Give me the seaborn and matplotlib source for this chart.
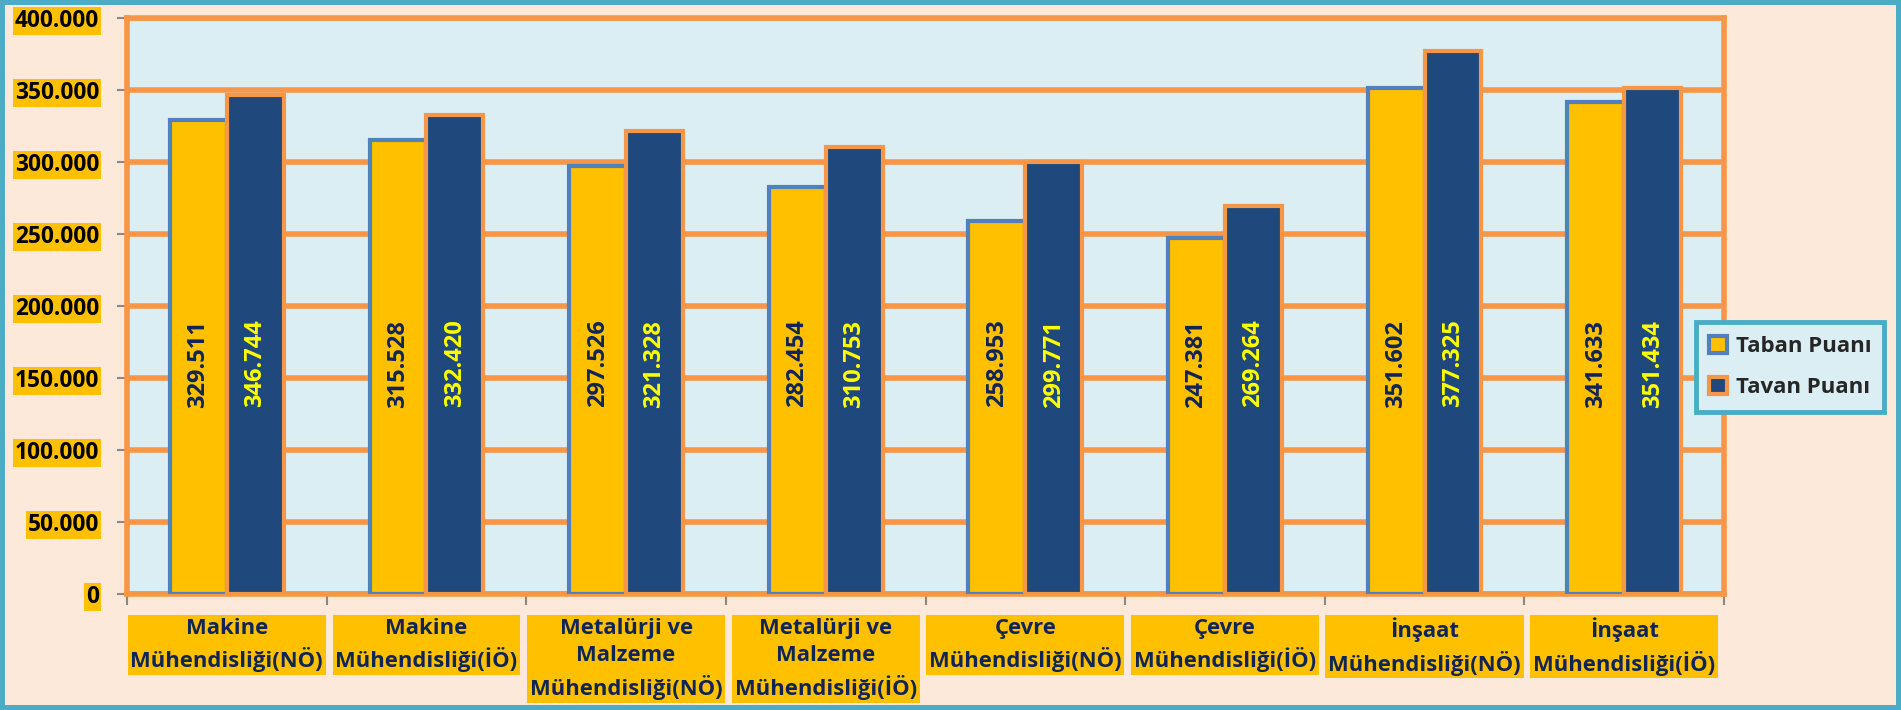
import matplotlib
matplotlib.use("Agg")
import matplotlib.pyplot as plt
import seaborn as sns
import pandas as pd
from matplotlib.patches import Patch
from matplotlib.ticker import FixedLocator, FuncFormatter

categories = ["Makine\nMühendisliği(NÖ)", "Makine\nMühendisliği(İÖ)",
              "Metalürji ve\nMalzeme\nMühendisliği(NÖ)", "Metalürji ve\nMalzeme\nMühendisliği(İÖ)",
              "Çevre\nMühendisliği(NÖ)", "Çevre\nMühendisliği(İÖ)",
              "İnşaat\nMühendisliği(NÖ)", "İnşaat\nMühendisliği(İÖ)"]
series_names = ["Taban Puanı", "Tavan Puanı"]
taban = [329511, 315528, 297526, 282454, 258953, 247381, 351602, 341633]
tavan = [346744, 332420, 321328, 310753, 299771, 269264, 377325, 351434]
y_ticks = [0, 50000, 100000, 150000, 200000, 250000, 300000, 350000, 400000]

YELLOW = "#FFC000"
NAVY = "#1F497D"
BLUE_EDGE = "#4F81BD"
ORANGE = "#F79646"
AX_BG = "#DBEEF3"
FIG_BG = "#FDE9D9"
TEAL = "#4BACC6"
TEXT_NAVY = "#0F2557"

sns.set_style("white")
plt.rcParams['font.family'] = ['Open Sans', 'DejaVu Sans']
plt.rcParams['font.weight'] = 'bold'

df = pd.DataFrame({
    "cat": categories * 2,
    "series": [series_names[0]] * len(categories) + [series_names[1]] * len(categories),
    "value": taban + tavan,
})

fig = plt.figure(figsize=(19.01, 7.10), dpi=100, facecolor=FIG_BG)
ax = fig.add_axes([127 / 1901, 1 - 594 / 710, (1724 - 127) / 1901, (594 - 18) / 710])
ax.set_facecolor(AX_BG)

sns.barplot(data=df, x="cat", y="value", hue="series", order=categories,
            hue_order=series_names, palette=[YELLOW, NAVY], width=0.57,
            saturation=1, ax=ax, legend=False, zorder=3)

edge_cols = [BLUE_EDGE, ORANGE]
text_cols = [TEXT_NAVY, "#FFFF00"]
for ci, cont in enumerate(ax.containers):
    for bar in cont:
        bar.set_edgecolor(edge_cols[ci])
        bar.set_linewidth(3)
        bar.set_zorder(3)
        ax.text(bar.get_x() + bar.get_width() / 2, 160000,
                f"{bar.get_height():,.0f}".replace(",", "."),
                rotation=90, ha="center", va="center", fontsize=17,
                fontweight="bold", color=text_cols[ci], zorder=5)

ax.set_ylim(0, 400000)
ax.set_xlim(-0.5, len(categories) - 0.5)
ax.yaxis.set_major_locator(FixedLocator(y_ticks))
ax.yaxis.set_major_formatter(FuncFormatter(lambda v, p: "0" if v == 0 else f"{v:,.0f}".replace(",", ".")))
ax.yaxis.grid(True, color=ORANGE, linewidth=4, zorder=1)
ax.set_axisbelow(True)
for s in ax.spines.values():
    s.set_color(ORANGE)
    s.set_linewidth(4)
ax.set_xlabel("")
ax.set_ylabel("")

ax.tick_params(axis="y", which="major", length=7, width=1.5, color="#888888", pad=13,
               labelsize=16.3, left=True)
ax.xaxis.set_minor_locator(FixedLocator([i - 0.5 for i in range(len(categories) + 1)]))
ax.tick_params(axis="x", which="minor", length=8, width=1.5, color="#888888", bottom=True)
ax.tick_params(axis="x", which="major", length=0, pad=17, labelsize=15.8, labelcolor=TEXT_NAVY)

for lab in ax.get_yticklabels():
    lab.set_fontweight("bold")
    lab.set_color("black")
    lab.set_bbox(dict(facecolor=YELLOW, edgecolor="none", pad=1.5))
for lab in ax.get_xticklabels():
    lab.set_fontweight("bold")
    lab.set_linespacing(1.42)
    lab.set_bbox(dict(facecolor=YELLOW, edgecolor="none", pad=2))

handles = [Patch(facecolor=YELLOW, edgecolor=BLUE_EDGE, linewidth=3),
           Patch(facecolor=NAVY, edgecolor=ORANGE, linewidth=3)]
leg = fig.legend(handles, series_names, loc="center", bbox_to_anchor=(1790 / 1901, 1 - 367 / 710),
                 frameon=True, fancybox=False, facecolor=AX_BG, edgecolor=TEAL,
                 prop={"weight": "bold", "size": 16}, handlelength=0.8, handleheight=0.8,
                 handletextpad=0.4, labelspacing=0.9, borderpad=0.6)
leg.get_frame().set_linewidth(3.5)
leg.get_frame().set_alpha(1)

fig.patch.set_edgecolor(TEAL)
fig.patch.set_linewidth(7)

fig.savefig("out.png", dpi=100, facecolor=FIG_BG, edgecolor=TEAL)
